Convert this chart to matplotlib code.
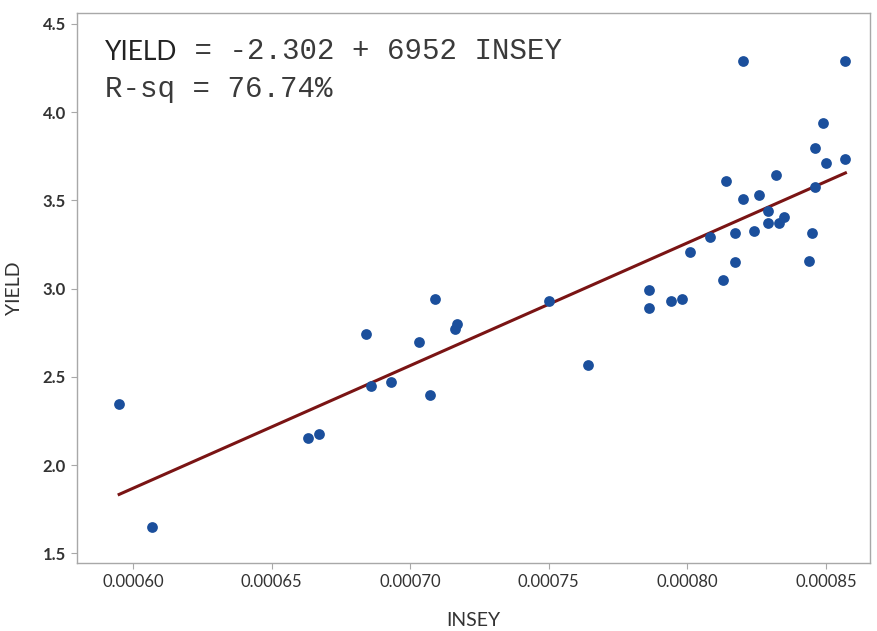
import numpy as np
import matplotlib
matplotlib.use("Agg")
import matplotlib.pyplot as plt
from matplotlib.ticker import FormatStrFormatter

# INSEY vs YIELD
insey = [0.000595, 0.000607, 0.000663, 0.000667, 0.000684, 0.000686, 0.000693,
         0.000703, 0.000707, 0.000709, 0.000716, 0.000717, 0.000750, 0.000764,
         0.000820, 0.000857, 0.000849, 0.000846, 0.000850, 0.000857, 0.000832,
         0.000814, 0.000846, 0.000820, 0.000826, 0.000829, 0.000829, 0.000833,
         0.000835, 0.000817, 0.000824, 0.000845, 0.000808, 0.000801, 0.000817,
         0.000844, 0.000813, 0.000786, 0.000786, 0.000794, 0.000798]
yld = [2.347, 1.648, 2.153, 2.175, 2.744, 2.451, 2.470,
       2.700, 2.400, 2.940, 2.772, 2.799, 2.931, 2.566,
       4.290, 4.290, 3.941, 3.797, 3.714, 3.735, 3.643,
       3.610, 3.578, 3.507, 3.533, 3.440, 3.371, 3.371,
       3.405, 3.316, 3.325, 3.314, 3.291, 3.210, 3.150,
       3.159, 3.050, 2.995, 2.891, 2.929, 2.944]

# fitted line from the equation shown
intercept = -2.302
slope = 6952
rsq = 76.74

xticks = [0.00060, 0.00065, 0.00070, 0.00075, 0.00080, 0.00085]
yticks = [1.5, 2.0, 2.5, 3.0, 3.5, 4.0, 4.5]

plt.rcParams['font.family'] = ['Lato', 'DejaVu Sans']

fig = plt.figure(figsize=(8.78, 6.31), dpi=100)
ax = fig.add_axes([0.0877, 0.1078, 0.9033, 0.8716])

ax.scatter(insey, yld, s=60, color='#1b4f9c', zorder=3, linewidths=0)

xs = np.array([min(insey), max(insey)])
ax.plot(xs, intercept + slope * xs, color='#7a1414', lw=2.2, zorder=2)

ax.set_xlim(0.0005798, 0.0008659)
ax.set_ylim(1.446, 4.562)
ax.set_xticks(xticks)
ax.set_yticks(yticks)
ax.xaxis.set_major_formatter(FormatStrFormatter('%.5f'))
ax.yaxis.set_major_formatter(FormatStrFormatter('%.1f'))

for sp in ax.spines.values():
    sp.set_color('#a8a8a8')
    sp.set_linewidth(1.0)
ax.tick_params(length=4, width=0.8, color='#a8a8a8', labelsize=12,
               labelcolor='#333333', pad=4)
for lab in ax.get_yticklabels():
    lab.set_fontweight('bold')

ax.set_xlabel('INSEY', fontsize=14, color='#333333', labelpad=16)
ax.set_ylabel('YIELD', fontsize=14, color='#333333', labelpad=14)

# regression annotation: "YIELD" in sans, the rest in a typewriter face
t1 = ax.text(0.035, 0.915, 'YIELD', transform=ax.transAxes, fontsize=19,
             color='#222222', va='baseline', ha='left')
ax.annotate(' = %.3f + %d INSEY' % (intercept, slope),
            xy=(1, 0), xycoords=t1, va='bottom', ha='left',
            fontsize=21, family='Liberation Mono', color='#3a3a3a')
ax.text(0.035, 0.848, 'R-sq = %.2f%%' % rsq, transform=ax.transAxes,
        fontsize=21, family='Liberation Mono', color='#3a3a3a',
        va='baseline', ha='left')

fig.savefig('out.png', dpi=100, facecolor='white')
